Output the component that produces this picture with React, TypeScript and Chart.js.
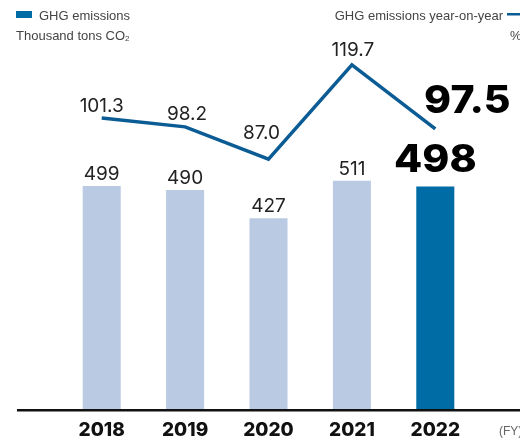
import React, { useEffect, useRef } from "react";
import { Chart, registerables } from "chart.js";
Chart.register(...registerables);

const years = ["2018", "2019", "2020", "2021", "2022"];
const emissions = [499, 490, 427, 511, 498];
const yoy = [101.3, 98.2, 87.0, 119.7, 97.5];
const yoyLabels = ["101.3", "98.2", "87.0", "119.7", "97.5"];
const legendBar = "GHG emissions";
const legendLine = "GHG emissions year-on-year";
const unitLeft = "Thousand tons CO";
const unitRight = "%";
const fyLabel = "(FY)";

const NUM_FONT = "Inter";
const TXT_FONT = "'Liberation Sans', Arial, sans-serif";

export default function App() {
  const ref = useRef<HTMLCanvasElement>(null);
  useEffect(() => {
    const canvas = ref.current!;
    const last = years.length - 1;
    const lineOffsets: [number, number][] = [
      [0, -6],
      [2, -7],
      [-7, -20],
      [1, -9],
      [32, -16],
    ];
    const bigText = (c: CanvasRenderingContext2D, t: string, x: number, y: number) => {
      c.save();
      c.font = `800 38px ${NUM_FONT}`;
      c.fillStyle = "#000";
      c.translate(x, y);
      c.scale(1.08, 1);
      c.fillText(t, 0, 0);
      c.restore();
    };
    const labelPlugin = {
      id: "customLabels",
      afterDatasetsDraw(chart: any) {
        const c = chart.ctx as CanvasRenderingContext2D;
        const bars = chart.getDatasetMeta(0).data;
        const pts = chart.getDatasetMeta(1).data;
        const xs = chart.scales.x;
        const bottom = chart.chartArea.bottom;
        c.save();
        // baseline
        c.fillStyle = "#111";
        c.fillRect(17, bottom - 1, 520 - 17, 2.5);
        c.textAlign = "center";
        c.textBaseline = "alphabetic";
        bars.forEach((b: any, i: number) => {
          if (i === last) {
            bigText(c, String(emissions[i]), b.x, b.y - 14);
          } else {
            c.font = `400 19px ${NUM_FONT}`;
            c.fillStyle = "#222";
            c.fillText(String(emissions[i]), b.x, b.y - 6);
          }
        });
        pts.forEach((p: any, i: number) => {
          const [dx, dy] = lineOffsets[i];
          if (i === last) {
            bigText(c, yoyLabels[i], p.x + dx, p.y + dy);
          } else {
            c.font = `400 19px ${NUM_FONT}`;
            c.fillStyle = "#222";
            c.fillText(yoyLabels[i], p.x + dx, p.y + dy);
          }
        });
        // years
        c.font = `800 19px ${NUM_FONT}`;
        c.fillStyle = "#111";
        years.forEach((y, i) => {
          c.fillText(y, xs.getPixelForValue(i), 436);
        });
        // FY
        c.textAlign = "left";
        c.font = `12px ${TXT_FONT}`;
        c.fillStyle = "#666";
        c.fillText(fyLabel, 499, 435);
        // header legend
        c.fillStyle = "#006ca6";
        c.fillRect(16, 11, 16, 7);
        c.fillStyle = "#444";
        c.font = `13px ${TXT_FONT}`;
        c.fillText(legendBar, 39, 20);
        c.fillText(unitLeft, 16, 40);
        const w = c.measureText(unitLeft).width;
        c.font = `8px ${TXT_FONT}`;
        c.fillText("2", 16 + w, 41);
        c.font = `13px ${TXT_FONT}`;
        c.textAlign = "right";
        c.fillText(legendLine, 503, 20);
        c.textAlign = "left";
        c.fillText(unitRight, 510, 40);
        c.fillStyle = "#0b5c95";
        c.fillRect(507, 13, 14, 2.5);
        c.restore();
      },
    };
    const chart = new Chart(canvas, {
      type: "bar",
      data: {
        labels: years,
        datasets: [
          {
            type: "bar",
            data: emissions,
            backgroundColor: emissions.map((_, i) => (i === last ? "#006ca6" : "#b9cae2")),
            barPercentage: 0.456,
            categoryPercentage: 1,
            yAxisID: "y",
            order: 2,
          },
          {
            type: "line",
            data: yoy,
            borderColor: "#0b5c95",
            borderWidth: 3.5,
            pointRadius: 0,
            tension: 0,
            fill: false,
            yAxisID: "y2",
            order: 1,
          },
        ],
      },
      options: {
        animation: false,
        responsive: false,
        maintainAspectRatio: false,
        layout: { padding: { left: 60, right: 43, top: 15, bottom: 33 } },
        plugins: { legend: { display: false }, tooltip: { enabled: false } },
        scales: {
          x: { display: false },
          y: { display: false, min: 0, max: 880 },
          y2: { display: false, min: 0, max: 137, position: "right" },
        },
      },
      plugins: [labelPlugin],
    } as any);
    return () => chart.destroy();
  }, []);
  return (
    <div style={{ position: "fixed", left: 0, top: 0, width: 520, height: 443, background: "#fff" }}>
      <canvas ref={ref} width={520} height={443} style={{ width: 520, height: 443 }} />
    </div>
  );
}
